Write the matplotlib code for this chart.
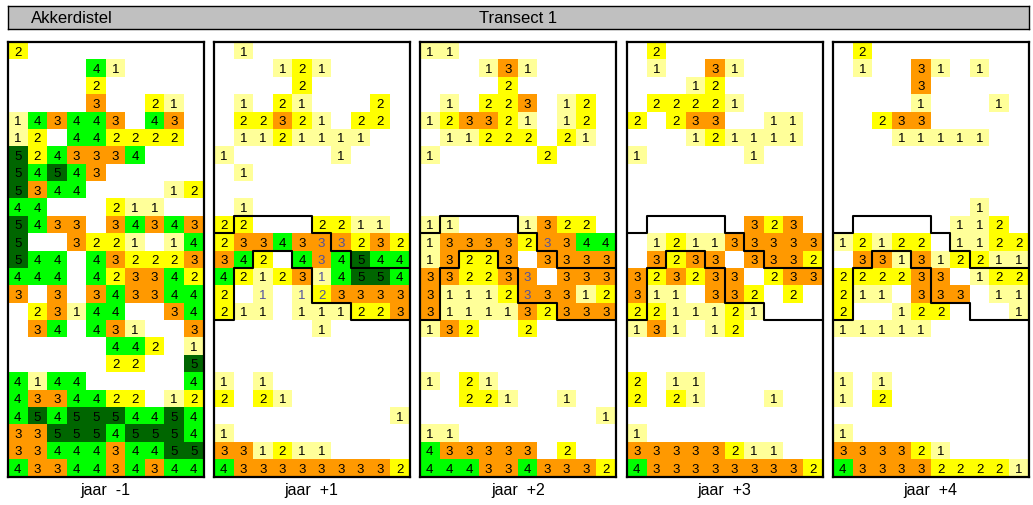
import numpy as np
import matplotlib
matplotlib.use('Agg')
import matplotlib.pyplot as plt
from matplotlib.colors import ListedColormap, BoundaryNorm

plt.rcParams['font.family'] = ['Liberation Sans', 'DejaVu Sans']

# bedekkingsklassen per cel, '.' = leeg ; 25 rijen x 10 kolommen
jaar_m1 = [
    "2.........", "....41....", "....2.....", "....3..21.", "143443.43.",
    "12.442222.", "5243334...", "54543.....", "5344....12", "44...211..",
    "5433.34343", "5..3221.14", "544.432223", "444.423342", "3.3.343344",
    ".23144..34", ".34.431..3", ".....442.1", ".....22..5", "4144.....4",
    "4334422.12", "4545554454", "3355545554", "3344434455", "4334434344",
]
jaar_p1 = [
    ".1........", "...121....", "....2.....", ".1.21...2.", ".22321.22.",
    ".1121111..", "1.....1...", ".1........", "..........", ".1........",
    "22...2211.", "2334333232", "342.434544", "4212314554", "2.1.123333",
    "211.111223", ".....1....", "..........", "..........", "1.1.......",
    "2.21......", ".........1", "1.........", "331211....", "4333333332",
]
jaar_p2 = [
    "11........", "...131....", "....2.....", ".1.223.12.", "123321.12.",
    ".11222.21.", "1.....2...", "..........", "..........", "..........",
    "11...1322.", "1333323344", "13223.3333", "332233.333", "3111233312",
    "3111132333", "132..2....", "..........", "..........", "1.21......",
    "..221..1..", ".........1", "11........", "433333.2..", "4443343332",
]
jaar_p3 = [
    ".2........", ".1..31....", "...12.....", ".22221....", "2.233..11.",
    "...121111.", "1.....1...", "..........", "..........", "..........",
    "......323.", ".121133333", ".3233.3332", "323233.233", "311.332.2.",
    "2211121...", "131.12....", "..........", "..........", "2.11......",
    "2.21...1..", "..........", "1.........", "33333211..", "4333333332",
]
jaar_p4 = [
    ".2........", ".1..31.1..", "....3.....", "....1...1.", "..233.....",
    "...11111..", "..........", "..........", "..........", ".......1..",
    "......112.", "12122.1122", ".331312211", "222233.122", "211.333.11",
    "2..122...1", "11111.....", "..........", "..........", "1.1.......",
    "1.2.......", "..........", "1.........", "333321....", "4333322221",
]
grids = [jaar_m1, jaar_p1, jaar_p2, jaar_p3, jaar_p4]
labels = ["jaar  -1", "jaar  +1", "jaar  +2", "jaar  +3", "jaar  +4"]

# cellen met blauwe cijfers (rij, kolom)
blauw = [[], [(11, 5), (11, 6), (12, 5), (13, 5), (14, 2), (14, 4), (14, 5)],
         [(11, 6), (13, 5), (14, 5)], [], []]

# grenslijnen van het behandelde vak (kolom, rij)
grens_boven = [(0, 11), (1, 11), (1, 10), (5, 10), (5, 11), (6, 11), (6, 12),
               (7, 12), (7, 13), (10, 13)]
grens_onder = [(0, 16), (1, 16), (1, 13), (2, 13), (2, 12), (4, 12), (4, 13),
               (5, 13), (5, 15), (7, 15), (7, 16), (10, 16)]
met_grens = [False, True, True, True, True]

kleuren = ['#FFFF99', '#FFFF00', '#FF9900', '#00FF00', '#006600']
cmap = ListedColormap(kleuren)
norm = BoundaryNorm([0.5, 1.5, 2.5, 3.5, 4.5, 5.5], cmap.N)

W, H = 1033, 506
fig = plt.figure(figsize=(W / 100, H / 100), dpi=100)


def px_axes(left, top, width, height):
    return fig.add_axes([left / W, 1 - (top + height) / H, width / W, height / H])


# titelbalk
bar = px_axes(8, 7, 1021, 23)
bar.set_facecolor('#C0C0C0')
bar.set_xticks([])
bar.set_yticks([])
for s in bar.spines.values():
    s.set_linewidth(1.0)
bar.text(23 / 1021, 0.5, "Akkerdistel", ha='left', va='center', fontsize=12,
         transform=bar.transAxes)
bar.text(0.5, 0.5, "Transect 1", ha='center', va='center', fontsize=12,
         transform=bar.transAxes)

lefts = [8, 214, 420, 627, 833]
top, cw, ch = 43, 19.55, 17.38
for p, grid in enumerate(grids):
    ax = px_axes(lefts[p], top, cw * 10, ch * 25)
    vals = np.array([[int(c) if c != '.' else 0 for c in row] for row in grid], dtype=float)
    data = np.ma.masked_equal(vals, 0)
    ax.pcolormesh(np.arange(11), np.arange(26), data, cmap=cmap, norm=norm)
    for r, row in enumerate(grid):
        for c, ch_ in enumerate(row):
            if ch_ == '.':
                continue
            col = '#5050A0' if (r, c) in blauw[p] else 'black'
            ax.text(c + 0.5, r + 0.55, ch_, ha='center', va='center',
                    fontsize=9.5, color=col)
    if met_grens[p]:
        for lijn in (grens_boven, grens_onder):
            xs, ys = zip(*lijn)
            ax.plot(xs, ys, color='black', lw=1.5, clip_on=False,
                    solid_capstyle='butt')
    ax.set_xlim(0, 10)
    ax.set_ylim(25, 0)
    ax.set_xticks([])
    ax.set_yticks([])
    for s in ax.spines.values():
        s.set_linewidth(1.6)
    fig.text((lefts[p] + cw * 5) / W, 1 - 491 / H, labels[p], ha='center',
             va='center', fontsize=11.5)

fig.savefig('out.png', dpi=100)
